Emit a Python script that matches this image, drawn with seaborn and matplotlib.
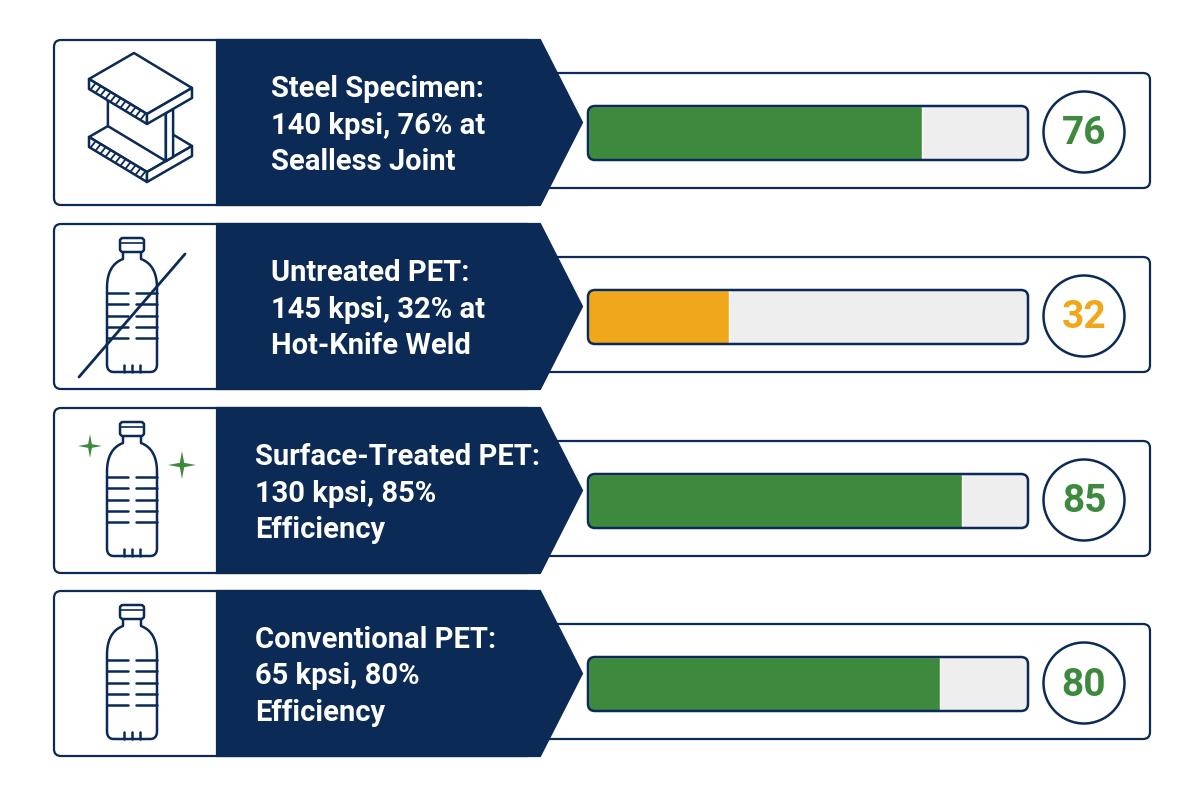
import numpy as np
import matplotlib
matplotlib.use("Agg")
import matplotlib.pyplot as plt
from matplotlib.patches import FancyBboxPatch, Polygon, Circle
import seaborn as sns

sns.set_theme(style="white")
plt.rcParams['font.family'] = ['Roboto', 'DejaVu Sans']

# data
materials = ["Steel Specimen", "Untreated PET", "Surface-Treated PET", "Conventional PET"]
labels = [
    "Steel Specimen:\n140 kpsi, 76% at\nSealless Joint",
    "Untreated PET:\n145 kpsi, 32% at\nHot-Knife Weld",
    "Surface-Treated PET:\n130 kpsi, 85%\nEfficiency",
    "Conventional PET:\n65 kpsi, 80%\nEfficiency",
]
scores = [76, 32, 85, 80]
score_colors = ["#3d8a3e", "#f0a81a", "#3d8a3e", "#3d8a3e"]
icons = ["beam", "bottle_slash", "bottle_sparkle", "bottle"]

NAVY = "#0b2a55"
GREEN = "#3d8a3e"
TRACK = "#eeeeef"

# layout (pixels)
row_tops = [40, 224, 408, 591]
text_x = [271, 271, 255, 255]
ROW_H = 165


def rbox(ax, x, y, w, h, r=6, **kw):
    p = FancyBboxPatch((x, y), w, h, boxstyle=f"round,pad=0,rounding_size={r}", **kw)
    ax.add_patch(p)
    return p


def qbez(p0, p1, p2, n=16):
    s = np.linspace(0, 1, n)
    xs = (1 - s) ** 2 * p0[0] + 2 * (1 - s) * s * p1[0] + s ** 2 * p2[0]
    ys = (1 - s) ** 2 * p0[1] + 2 * (1 - s) * s * p1[1] + s ** 2 * p2[1]
    return list(zip(xs, ys))


def draw_bottle(ax, cx, top):
    lw = 1.8
    left = [(-9, 14), (-9, 21)] + qbez((-9, 21), (-25, 27), (-25, 50)) + \
        [(-25, 126)] + qbez((-25, 126), (-25, 134), (-18, 134))
    right = [(-x, y) for (x, y) in reversed(left)]
    pts = np.array(left + right)
    ax.plot(cx + pts[:, 0], top + pts[:, 1], color=NAVY, lw=lw, zorder=5,
            solid_capstyle='round', solid_joinstyle='round')
    rbox(ax, cx - 12, top, 24, 14, r=3, facecolor='white', edgecolor=NAVY, lw=lw, zorder=6)
    ax.plot([cx - 12, cx + 12], [top + 5, top + 5], color=NAVY, lw=1.2, zorder=7)
    for dy in [55, 66, 78, 89, 100]:
        ax.plot([cx - 25, cx - 4], [top + dy] * 2, color=NAVY, lw=lw, zorder=5, solid_capstyle='round')
        ax.plot([cx + 4, cx + 25], [top + dy] * 2, color=NAVY, lw=lw, zorder=5, solid_capstyle='round')
    for dx in [-8, 0, 8]:
        ax.plot([cx + dx, cx + dx], [top + 127, top + 134], color=NAVY, lw=lw, zorder=5)


def sparkle(ax, x, y, r):
    pts = []
    for k in range(8):
        a = k * np.pi / 4
        rr = r if k % 2 == 0 else r * 0.22
        pts.append((x + rr * np.cos(a), y - rr * np.sin(a)))
    ax.add_patch(Polygon(pts, closed=True, facecolor=GREEN, edgecolor='none', zorder=6))


def draw_beam(ax, top):
    L = np.array([89.0, top + 39])
    u = np.array([45.0, -26])
    v = np.array([58.0, 35])
    t = 10.0
    S = 58.0
    lw = 1.8

    def P(a, b, off=0.0):
        return L + a * u + b * v + np.array([0, off])

    def poly(pts, z):
        ax.add_patch(Polygon(pts, closed=True, facecolor='white', edgecolor=NAVY,
                             lw=lw, zorder=z, joinstyle='round'))

    def flange(off, z):
        poly([P(0, 0, off), P(1, 0, off), P(1, 1, off), P(0, 1, off)], z)
        poly([P(0, 0, off), P(0, 1, off), P(0, 1, off + t), P(0, 0, off + t)], z)
        poly([P(0, 1, off), P(1, 1, off), P(1, 1, off + t), P(0, 1, off + t)], z)
        for s in np.linspace(0.07, 0.93, 11):
            p = P(0, s, off)
            ax.plot([p[0] + 2, p[0] - 2], [p[1] + 2.5, p[1] + t - 2.5], color=NAVY,
                    lw=1.3, zorder=z + 0.1)

    flange(S, 4)
    w = 0.08
    # web plate across the flanges
    poly([P(0.5 - w, 0, t), P(0.5 - w, 1, t), P(0.5 - w, 1, S), P(0.5 - w, 0, S)], 4.5)
    poly([P(0.5 - w, 1, t), P(0.5 + w, 1, t), P(0.5 + w, 1, S), P(0.5 - w, 1, S)], 4.6)
    flange(0, 5)


fig = plt.figure(figsize=(12, 8), dpi=100)
ax = fig.add_axes([0, 0, 1, 1])
ax.set_xlim(0, 1200)
ax.set_ylim(800, 0)
ax.axis('off')

for i, top in enumerate(row_tops):
    mid = top + ROW_H / 2
    # left card with icon
    rbox(ax, 54, top, 480, ROW_H, r=7, facecolor='white', edgecolor=NAVY, lw=1.6, zorder=1)
    # right card with progress bar
    rbox(ax, 530, top + 33, 620, 115, r=7, facecolor='white', edgecolor=NAVY, lw=1.6, zorder=1)
    # navy arrow panel
    arrow = [(217, top), (540, top), (582, mid), (540, top + ROW_H), (217, top + ROW_H)]
    ax.add_patch(Polygon(arrow, closed=True, facecolor=NAVY, edgecolor=NAVY, lw=1.6, zorder=2))
    ax.text(text_x[i], mid + 3, labels[i], color='white', fontsize=21, fontweight='bold',
            ha='left', va='center', linespacing=1.38, zorder=3)

    # icons
    kind = icons[i]
    if kind == "beam":
        draw_beam(ax, top)
    else:
        draw_bottle(ax, 132, top + 14)
        if kind == "bottle_slash":
            ax.plot([79, 185], [top + 153, top + 30], color=NAVY, lw=2.0, zorder=8,
                    solid_capstyle='round')
        if kind == "bottle_sparkle":
            sparkle(ax, 90, top + 38, 12)
            sparkle(ax, 182, top + 57, 14)

    # progress bar
    bx, by, bw, bh = 588, top + 66, 440, 54
    track = rbox(ax, bx, by, bw, bh, r=7, facecolor=TRACK, edgecolor='none', zorder=2)
    bax = fig.add_axes([bx / 1200, 1 - (by + bh) / 800, bw / 1200, bh / 800])
    sns.barplot(x=[scores[i]], y=[materials[i]], orient='h', color=score_colors[i],
                saturation=1, width=1.0, ax=bax)
    bax.set_xlim(0, 100)
    bax.set_ylim(0.5, -0.5)
    bax.axis('off')
    bax.patch.set_alpha(0)
    for p in bax.patches:
        p.set_clip_path(track)
    border = FancyBboxPatch((bx, by), bw, bh, boxstyle="round,pad=0,rounding_size=7",
                            transform=ax.transData, fill=False, edgecolor=NAVY, lw=1.8,
                            clip_on=False, zorder=5)
    bax.add_artist(border)

    # score circle
    ax.add_patch(Circle((1084, top + 92), 40.5, facecolor='white', edgecolor=NAVY, lw=1.8, zorder=3))
    ax.text(1084, top + 94, str(scores[i]), color=score_colors[i], fontsize=28,
            fontweight='bold', ha='center', va='center', zorder=4)

fig.savefig('out.png', dpi=100, facecolor='white')
